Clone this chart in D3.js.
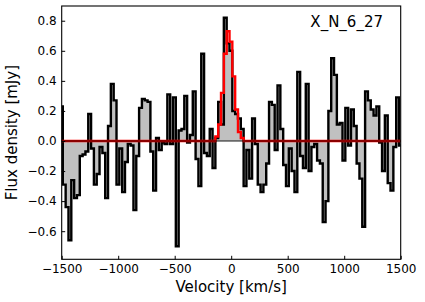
<!DOCTYPE html>
<html><head><meta charset="utf-8">
<script src="https://cdn.jsdelivr.net/npm/d3@7"></script>
<style>
body{margin:0;background:#fff;}
svg{display:block;font-family:"DejaVu Sans",sans-serif;}
</style></head>
<body><svg id="c" width="425" height="302"></svg>
<script>
// channel width (km/s) and first channel centre
const chanWidth = 25;
const firstCentre = -1502.5;
// observed flux density per channel [mJy]
const flux = [
 0.23,-0.29,-0.44,-0.66,-0.26,-0.38,-0.36,-0.10,-0.09,-0.07,
 0.18,-0.05,-0.29,-0.22,-0.04,-0.08,-0.38, 0.10, 0.38, 0.27,
-0.29,-0.05,-0.34,-0.14,-0.02,-0.03,-0.46,-0.10, 0.22, 0.28,
 0.27, 0.26,-0.07,-0.33, 0.02,-0.06,-0.01,-0.02, 0.31,-0.02,
 0.29,-0.70, 0.07, 0.08, 0.30,-0.01, 0.04, 0.33,-0.12,-0.30,
 0.58,-0.08,-0.10, 0.08,-0.18, 0.02, 0.26, 0.11, 0.82, 0.65,
 0.60, 0.20, 0.18, 0.15, 0.08,-0.30,-0.06,-0.25, 0.15,-0.02,
-0.29,-0.34,-0.29,-0.15, 0.26, 0.24,-0.06, 0.37, 0.08,-0.16,
-0.30,-0.05,-0.20,-0.34, 0.46,-0.10,-0.18, 0.38,-0.20,-0.04,
-0.02,-0.13,-0.15,-0.54,-0.40, 0.20, 0.55, 0.44, 0.11, 0.12,
-0.13, 0.22,-0.03, 0.21, 0.10,-0.15,-0.25,-0.57, 0.33, 0.27,
 0.21, 0.17, 0.23,-0.01,-0.20, 0.17,-0.28,-0.33,-0.04, 0.29,
-0.03
];
// Gaussian fit per channel (non-zero channels only, by index)
const fitIndex = [55, 56, 57, 58, 59, 60, 61, 62, 63, 64];
const fitValue = [0.03, 0.11, 0.32, 0.58, 0.73, 0.66, 0.43, 0.21, 0.06, 0.02];
const xTicks = [-1500, -1000, -500, 0, 500, 1000, 1500];
const yTicks = [-0.6, -0.4, -0.2, 0.0, 0.2, 0.4, 0.6, 0.8];
const xDomain = [-1500, 1500];
const yDomain = [-0.787, 0.898];
const label = "X_N_6_27";

const svg = d3.select("#c");
const L = 61.7, R = 400.7, T = 6, B = 259.3;
const x = d3.scaleLinear().domain(xDomain).range([L, R]);
const y = d3.scaleLinear().domain(yDomain).range([B, T]);

const centres = flux.map((_, i) => firstCentre + chanWidth * i);
const model = flux.map(() => 0);
fitIndex.forEach((k, j) => { model[k] = fitValue[j]; });

function stepPts(vals) {
  const pts = [];
  vals.forEach((v, i) => {
    pts.push([centres[i] - chanWidth / 2, v]);
    pts.push([centres[i] + chanWidth / 2, v]);
  });
  return pts;
}

svg.append("defs").append("clipPath").attr("id", "clip")
  .append("rect").attr("x", L).attr("y", T).attr("width", R - L).attr("height", B - T);

const g = svg.append("g").attr("clip-path", "url(#clip)");
const dataPts = stepPts(flux);
const modelPts = stepPts(model);

g.append("path").datum(dataPts)
  .attr("d", d3.area().x(d => x(d[0])).y0(y(0)).y1(d => y(d[1])))
  .attr("fill", "#c0c0c0").attr("stroke", "none");
g.append("path").datum(dataPts)
  .attr("d", d3.line().x(d => x(d[0])).y(d => y(d[1])))
  .attr("fill", "none").attr("stroke", "#000").attr("stroke-width", 2.4)
  .attr("stroke-linejoin", "miter");
g.append("path").datum(modelPts)
  .attr("d", d3.line().x(d => x(d[0])).y(d => y(d[1])))
  .attr("fill", "none").attr("stroke", "#ff0000").attr("stroke-width", 2.4);
g.append("line")
  .attr("x1", L).attr("x2", R).attr("y1", y(0)).attr("y2", y(0))
  .attr("stroke", "#000").attr("stroke-opacity", 0.45).attr("stroke-width", 2);

// axes
const xAxis = d3.axisBottom(x).tickValues(xTicks).tickSize(-3.5).tickPadding(5)
  .tickFormat(d3.format("d"));
const yAxis = d3.axisLeft(y).tickValues(yTicks).tickSize(-3.5).tickPadding(5)
  .tickFormat(d3.format(".1f"));
const gx = svg.append("g").attr("transform", `translate(0,${B})`).call(xAxis);
const gy = svg.append("g").attr("transform", `translate(${L},0)`).call(yAxis);
[gx, gy].forEach(a => {
  a.select(".domain").remove();
  a.selectAll("text").attr("font-size", 12).attr("fill", "#000")
    .attr("font-family", "DejaVu Sans");
  a.selectAll("line").attr("stroke", "#000").attr("stroke-width", 1);
});

svg.append("rect").attr("x", L).attr("y", T).attr("width", R - L).attr("height", B - T)
  .attr("fill", "none").attr("stroke", "#000").attr("stroke-width", 1.1);

svg.append("text").attr("x", (L + R) / 2).attr("y", 292)
  .attr("text-anchor", "middle").attr("font-size", 15).text("Velocity [km/s]");
svg.append("text").attr("transform", `translate(17,${(T + B) / 2}) rotate(-90)`)
  .attr("text-anchor", "middle").attr("font-size", 15).text("Flux density [mJy]");
svg.append("text").attr("x", 383).attr("y", 27)
  .attr("text-anchor", "end").attr("font-size", 15).text(label);
</script></body></html>
